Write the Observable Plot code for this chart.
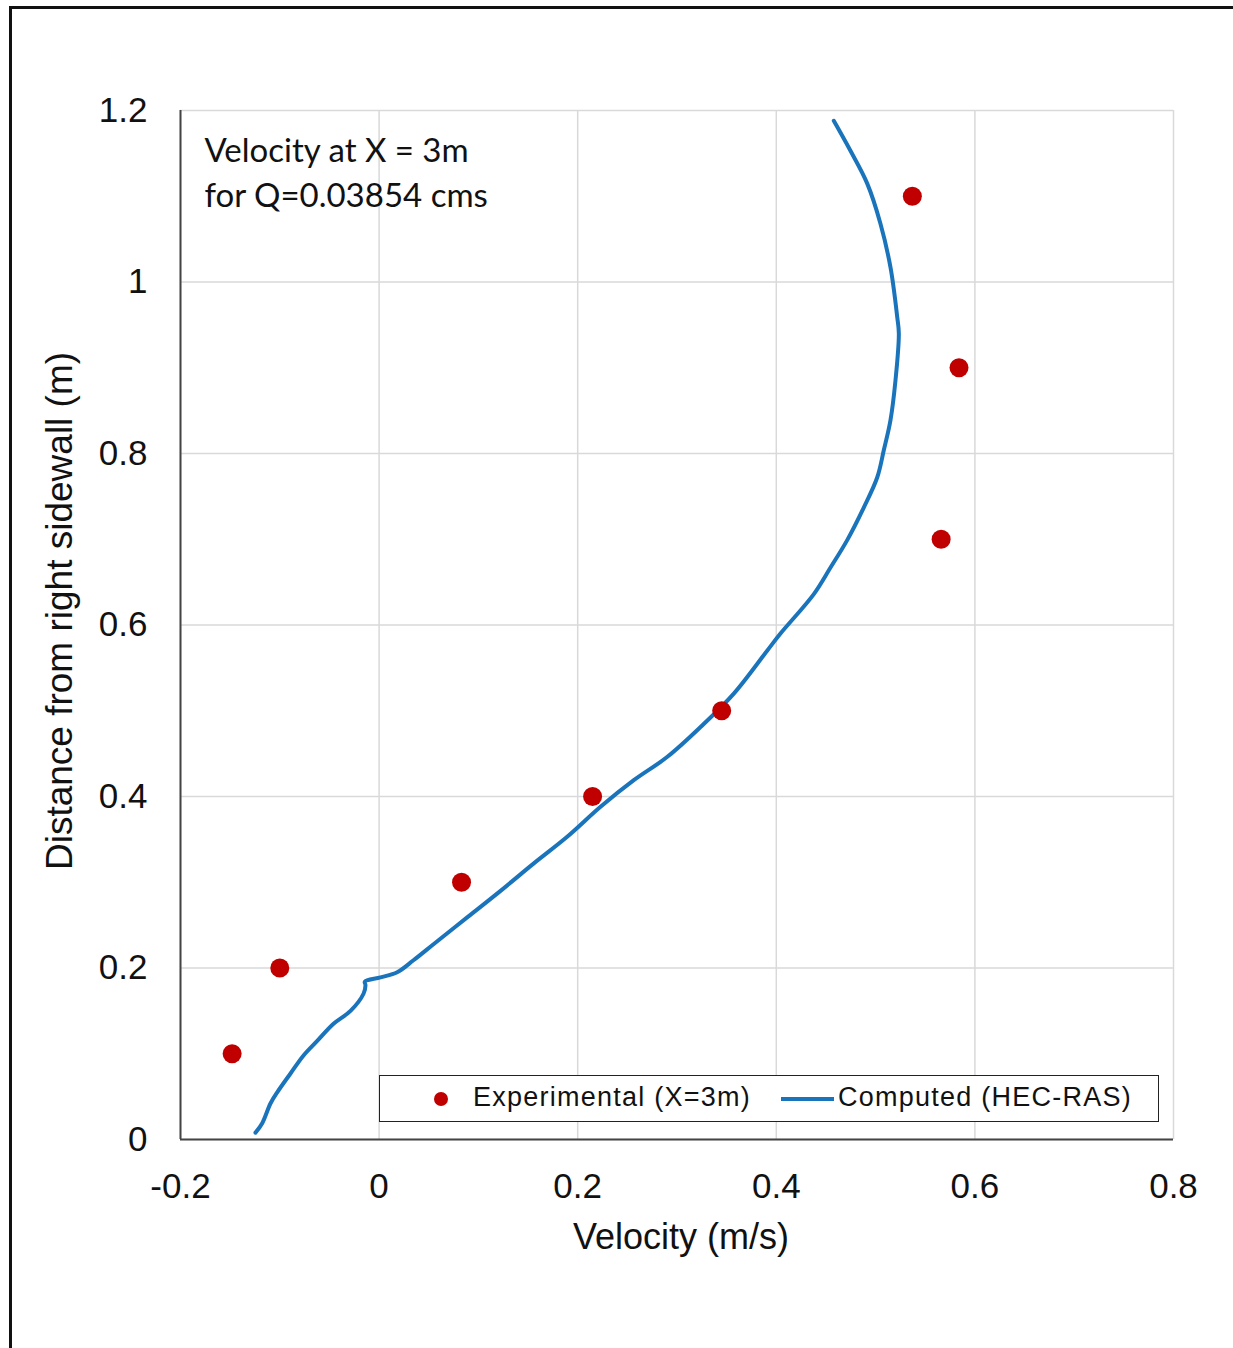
<!DOCTYPE html>
<html><head><meta charset="utf-8">
<script src="https://cdn.jsdelivr.net/npm/d3@7"></script>
<script src="https://cdn.jsdelivr.net/npm/@observablehq/plot@0.6"></script>
<style>
body{margin:0;background:#fff;}
#wrap{position:relative;width:1233px;height:1348px;overflow:hidden;background:#fff;}
#border{position:absolute;left:9px;top:6px;right:-10px;bottom:-10px;border-top:3px solid #111;border-left:3px solid #111;pointer-events:none;}
#legend{position:absolute;left:379px;top:1075px;width:778px;height:45px;border:1.5px solid #222;background:#fff;font-family:"Liberation Sans",Arial,sans-serif;font-size:27px;letter-spacing:1.25px;color:#111;}
#legend .dot{position:absolute;left:54px;top:16px;width:14px;height:14px;border-radius:50%;background:#C00000;}
#legend .ln{position:absolute;left:401px;top:21px;width:53px;height:4px;background:#1A74BB;}
#legend .t{position:absolute;top:6px;white-space:nowrap;}
</style></head>
<body>
<div id="wrap"><div id="border"></div><div id="legend"><div class="dot"></div><span class="t" style="left:93px">Experimental (X=3m)</span><div class="ln"></div><span class="t" style="left:458px">Computed (HEC-RAS)</span></div></div>
<script>
// Experimental points
const expVelocity = [-0.148, -0.1, 0.083, 0.215, 0.345, 0.566, 0.584, 0.537];
const expDistance = [0.1, 0.2, 0.3, 0.4, 0.5, 0.7, 0.9, 1.1];
// Computed (HEC-RAS) profile
const compVelocity = [-0.1245,-0.1177,-0.1094,-0.1026,-0.0892,-0.0761,-0.0623,-0.0459,-0.0288,-0.0157,-0.0137,-0.0144,0.0014,0.0182,0.0346,0.0551,0.0887,0.1223,0.1558,0.1894,0.223,0.2565,0.290,0.3237,0.3572,0.3908,0.4042,0.4378,0.4546,0.4714,0.4881,0.5016,0.5083,0.515,0.520,0.5234,0.5218,0.515,0.5049,0.4915,0.4747,0.4579];
const compDistance = [0.008,0.019,0.042,0.055,0.077,0.098,0.115,0.135,0.150,0.170,0.180,0.184,0.189,0.195,0.209,0.228,0.259,0.290,0.322,0.353,0.388,0.419,0.446,0.481,0.520,0.570,0.590,0.636,0.667,0.699,0.737,0.772,0.804,0.839,0.885,0.940,0.959,1.017,1.068,1.115,1.153,1.188];
const xTicks = [-0.2, 0, 0.2, 0.4, 0.6, 0.8];
const yTicks = [0, 0.2, 0.4, 0.6, 0.8, 1, 1.2];
const xTitle = "Velocity (m/s)";
const yTitle = "Distance from right sidewall (m)";
const note = "Velocity at X = 3m\nfor Q=0.03854 cms";

const exp = expVelocity.map((v, i) => ({v, d: expDistance[i]}));
const comp = compVelocity.map((v, i) => ({v, d: compDistance[i]}));
const fmt = d => String(+d.toFixed(1));
const font = '"Liberation Sans", Arial, sans-serif';

const chart = Plot.plot({
  width: 1233, height: 1348,
  marginLeft: 180, marginRight: 60, marginTop: 110, marginBottom: 209,
  style: {fontFamily: font, background: "transparent", color: "#111"},
  x: {domain: [-0.2, 0.8]},
  y: {domain: [0, 1.2]},
  marks: [
    Plot.gridX({ticks: xTicks, stroke: "#d9d9d9", strokeOpacity: 1, strokeWidth: 1.5}),
    Plot.gridY({ticks: yTicks, stroke: "#d9d9d9", strokeOpacity: 1, strokeWidth: 1.5}),
    Plot.ruleX([xTicks[0]], {stroke: "#444", strokeWidth: 2}),
    Plot.ruleY([yTicks[0]], {stroke: "#444", strokeWidth: 2}),
    Plot.axisX({ticks: xTicks, tickFormat: fmt, tickSize: 0, tickPadding: 34, fontSize: 35, label: null}),
    Plot.axisY({ticks: yTicks, tickFormat: fmt, tickSize: 0, tickPadding: 33, fontSize: 35, label: null}),
    Plot.text([xTitle], {frameAnchor: "bottom", dx: 4, dy: 98, fontSize: 36, lineAnchor: "middle", textAnchor: "middle"}),
    Plot.text([yTitle], {frameAnchor: "left", dx: -120, dy: -14, rotate: -90, fontSize: 37, lineAnchor: "middle", textAnchor: "middle"}),
    Plot.text([note], {frameAnchor: "top-left", dx: 24, dy: 20, lineAnchor: "top", textAnchor: "start", fontSize: 33, fontFamily: "Lato", lineHeight: 1.36}),
    Plot.line(comp, {x: "v", y: "d", stroke: "#1A74BB", strokeWidth: 4, curve: "catmull-rom", strokeLinejoin: "round", strokeLinecap: "round"}),
    Plot.dot(exp, {x: "v", y: "d", r: 9.5, fill: "#C00000"})
  ]
});
chart.style.position = "absolute";
chart.style.left = "0";
chart.style.top = "0";
const wrap = document.getElementById("wrap");
wrap.insertBefore(chart, wrap.firstChild);
</script>
</body></html>
